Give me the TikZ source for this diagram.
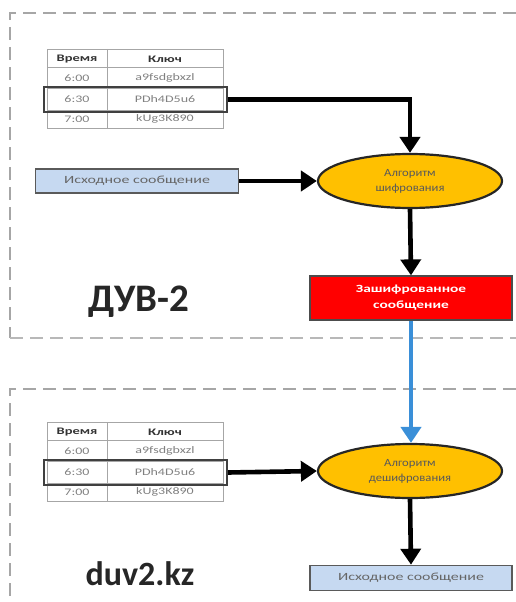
\documentclass[tikz,border=0pt]{standalone}
\usepackage{fontspec}
\usepackage{graphicx}
\setmainfont{Carlito}
\usetikzlibrary{arrows.meta,shapes.geometric}
\definecolor{dashgray}{HTML}{A6A6A6}
\definecolor{msgblue}{HTML}{C6D9F1}
\definecolor{msgborder}{HTML}{5A5A5A}
\definecolor{algyellow}{HTML}{FFC000}
\definecolor{encred}{HTML}{FF0000}
\definecolor{flowblue}{HTML}{3A8FD8}
\newcommand{\widetxt}[2][1.45]{\scalebox{#1}[1]{#2}}
\tikzset{
  frameline/.style={dashgray, line width=2.6pt, dash pattern=on 13pt off 7pt},
  framelinelight/.style={dashgray!80, line width=1.6pt, dash pattern=on 13pt off 7pt},
  msgbox/.style={draw=msgborder, line width=1.6pt, fill=msgblue, minimum width=203pt, minimum height=24pt, font=\fontsize{11}{12}\selectfont, text=black!60, inner sep=0pt},
  algo/.style={ellipse, draw=black!85, line width=2.2pt, fill=algyellow, minimum width=184pt, minimum height=54pt, align=center, font=\fontsize{11}{15}\selectfont, text=black!65, inner sep=0pt},
  encbox/.style={draw=black!70, line width=1.2pt, fill=encred, minimum width=202pt, minimum height=44pt, align=center, font=\fontsize{11}{16}\selectfont\bfseries, text=white, inner sep=0pt},
  flow/.style={line width=4.6pt, black, -{Triangle[length=16pt,width=20pt]}},
  bluflow/.style={line width=4.6pt, flowblue, -{Triangle[length=16pt,width=20pt]}},
  tcell/.style={font=\fontsize{10}{11}\selectfont, text=black!50},
  thead/.style={font=\fontsize{10}{11}\selectfont\bfseries, text=black!80},
  bigtitle/.style={font=\fontsize{39}{42}\selectfont\bfseries, text=black!85},
  tline/.style={gray!70, line width=0.9pt},
  selrow/.style={draw=black!75, line width=2.2pt, minimum width=183pt, minimum height=25pt, inner sep=0pt},
}
\begin{document}
\begin{tikzpicture}[x=1pt,y=-1pt]
\useasboundingbox (0,0) rectangle (516,602);
% frames
\draw[frameline] (516,13) -- (10,13) -- (10,338);
\draw[framelinelight] (10,338) -- (516,338);
\draw[frameline] (516,389) -- (10,389) -- (10,602);

% ---------- table 1 ----------
\draw[tline] (47,49) rectangle (223,128);
\draw[tline] (47,67) -- (223,67);
\draw[tline] (47,88) -- (223,88);
\draw[tline] (47,110) -- (223,110);
\draw[tline] (107,49) -- (107,128);
\node[thead] (h1a) at (77,59) {\widetxt{Время}};
\node[thead] (h1b) at (165,59) {\widetxt{Ключ}};
\node[tcell] (r1a) at (77,78) {\widetxt[1.4]{6:00}};
\node[tcell] (r1b) at (165,78) {\widetxt[1.4]{a9fsdgbxzl}};
\node[tcell] (r2a) at (77,99) {\widetxt[1.4]{6:30}};
\node[tcell] (r2b) at (165,99) {\widetxt[1.4]{PDh4D5u6}};
\node[tcell] (r3a) at (77,119) {\widetxt[1.4]{7:00}};
\node[tcell] (r3b) at (165,119) {\widetxt[1.4]{kUg3K890}};
\node[selrow] (sel1) at (135.5,99.5) {};

% ---------- top flow ----------
\node[msgbox] (src) at (137,181) {\widetxt{Исходное сообщение}};
\node[algo] (enc) at (410,181) {\widetxt[1.15]{Алгоритм}\\\widetxt[1.15]{шифрования}};
\node[encbox] (out) at (411,298) {\widetxt[1.4]{Зашифрованное}\\\widetxt[1.4]{сообщение}};
\node[bigtitle] (t1) at (139,302) {ДУВ-2};

\draw[flow] (sel1.east) -| (enc.north);
\draw[flow] (src.east) -- (enc.west);
\draw[flow] (enc.south) -- (out.north);

% ---------- table 2 ----------
\draw[tline] (47,422) rectangle (223,501);
\draw[tline] (47,440) -- (223,440);
\draw[tline] (47,461) -- (223,461);
\draw[tline] (47,483) -- (223,483);
\draw[tline] (107,422) -- (107,501);
\node[thead] (h2a) at (77,432) {\widetxt{Время}};
\node[thead] (h2b) at (165,432) {\widetxt{Ключ}};
\node[tcell] (s1a) at (77,451) {\widetxt[1.4]{6:00}};
\node[tcell] (s1b) at (165,451) {\widetxt[1.4]{a9fsdgbxzl}};
\node[tcell] (s2a) at (77,472) {\widetxt[1.4]{6:30}};
\node[tcell] (s2b) at (165,472) {\widetxt[1.4]{PDh4D5u6}};
\node[tcell] (s3a) at (77,492) {\widetxt[1.4]{7:00}};
\node[tcell] (s3b) at (165,492) {\widetxt[1.4]{kUg3K890}};
\node[selrow] (sel2) at (135.5,472.5) {};

% ---------- bottom flow ----------
\node[algo] (dec) at (410,471) {\widetxt[1.15]{Алгоритм}\\\widetxt[1.15]{дешифрования}};
\node[msgbox, minimum width=202pt, minimum height=25pt] (res) at (411,578) {\widetxt{Исходное сообщение}};
\node[bigtitle, font=\fontsize{34}{38}\selectfont\bfseries] (t2) at (140,574) {duv2.kz};

\draw[bluflow] (out.south) -- (out.south |- dec.north);
\draw[flow] (sel2.east) -- (dec.west);
\draw[flow] (dec.south) -- (res.north);
\end{tikzpicture}
\end{document}
